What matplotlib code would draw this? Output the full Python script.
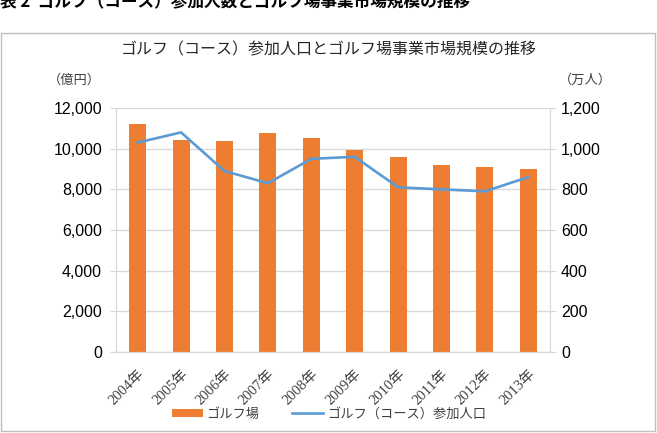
import numpy as np
import matplotlib.pyplot as plt
from matplotlib.patches import Rectangle

years = ['2004年', '2005年', '2006年', '2007年', '2008年',
         '2009年', '2010年', '2011年', '2012年', '2013年']
market = [11200, 10450, 10400, 10750, 10500, 9950, 9600, 9200, 9100, 9000]   # 億円
players = [1030, 1080, 890, 830, 950, 960, 810, 800, 790, 860]                # 万人

caption = '表 2  ゴルフ（コース）参加人数とゴルフ場事業市場規模の推移'
title = 'ゴルフ（コース）参加人口とゴルフ場事業市場規模の推移'

orange = '#ED7D31'
blue = '#5B9BD5'
grid_c = '#D9D9D9'
text_c = '#404040'
sans = ['Liberation Sans', 'Noto Sans CJK JP']
jp = ['Noto Sans CJK JP', 'DejaVu Sans']
serif = ['Liberation Serif', 'Noto Sans CJK JP']

plt.rcParams['font.family'] = sans

fig = plt.figure(figsize=(6.57, 4.33), dpi=100)
ax = fig.add_axes([116/657, 1-352/433, (550-116)/657, (352-108)/433])
ax2 = ax.twinx()

x = np.arange(len(years))
ax.bar(x, market, width=0.39, color=orange, zorder=2, label='ゴルフ場')
ax2.plot(x, players, color=blue, lw=1.9, zorder=3, label='ゴルフ（コース）参加人口')

ax.set_xlim(-0.5, len(years)-0.5)
ax.set_ylim(0, 12000)
ax2.set_ylim(0, 1200)
ax.set_yticks(np.arange(0, 12001, 2000))
ax2.set_yticks(np.arange(0, 1201, 200))
ax.set_yticklabels(['{:,}'.format(v) for v in range(0, 12001, 2000)])
ax2.set_yticklabels(['{:,}'.format(v) for v in range(0, 1201, 200)])
ax.grid(axis='y', color=grid_c, lw=1, zorder=0)
ax.set_axisbelow(True)

for a in (ax, ax2):
  for s in a.spines.values():
    s.set_color(grid_c)
  a.spines['top'].set_visible(False)
  a.tick_params(axis='y', colors=grid_c, labelcolor='black', labelsize=11.5, length=4)
ax.tick_params(axis='y', pad=6)
ax2.tick_params(axis='y', pad=4)
ax.tick_params(axis='x', length=0, pad=11)

ax.set_xticks(x)
ax.set_xticklabels(years, rotation=45, ha='right', rotation_mode='anchor',
                   family=serif, fontsize=10.5, color=text_c)

fig.text(101/657, 1-80/433, '（億円）', family=jp, fontsize=9.5, color=text_c, ha='right', va='center')
fig.text(559/657, 1-80/433, '（万人）', family=jp, fontsize=9.5, color=text_c, ha='left', va='center')

fig.text(0.5, 1-50/433, title, family=jp, fontsize=11.5, color='#262626', ha='center', va='center')
fig.text(0.0, 1-2/433, caption, family=jp, fontsize=12, weight='bold', ha='left', va='center')

h1, l1 = ax.get_legend_handles_labels()
h2, l2 = ax2.get_legend_handles_labels()
fig.legend(h1+h2, l1+l2, loc='center', bbox_to_anchor=(329/657, 1-414/433), ncol=2,
           frameon=False, prop={'family': jp, 'size': 9.5}, labelcolor=text_c,
           handlelength=2.3, handleheight=0.6, columnspacing=2.5, handletextpad=0.3)

fig.add_artist(Rectangle((1/657, 1-431/433), 654/657, 398/433, transform=fig.transFigure,
                         fill=False, edgecolor='#BFBFBF', lw=1))

fig.savefig('out.png', dpi=100)
